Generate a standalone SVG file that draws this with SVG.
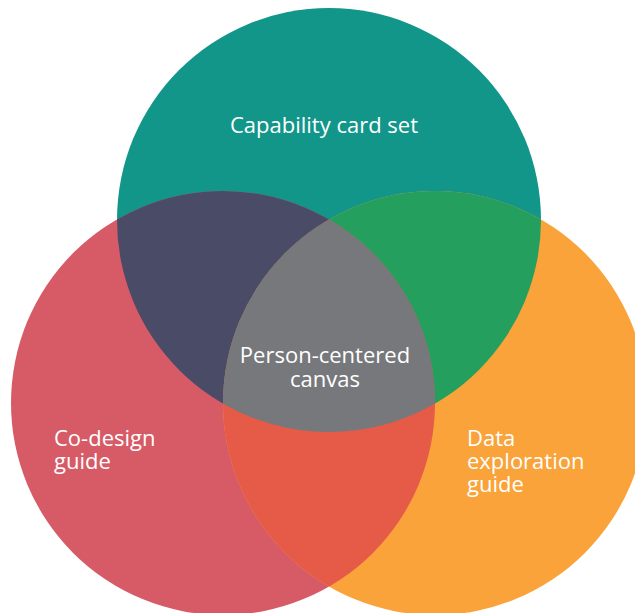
<svg xmlns="http://www.w3.org/2000/svg" width="635" height="613" viewBox="0 0 635 613">
  <style>
    .lbl { font-family: "Open Sans", "Noto Sans", "DejaVu Sans", sans-serif; font-size: 22px; fill: #ffffff; }
    .mid { text-anchor: middle; }
  </style>
  <defs>
    <clipPath id="clipTop"><circle cx="329" cy="220" r="212"/></clipPath>
    <clipPath id="clipLeft"><circle cx="223" cy="403" r="212"/></clipPath>
    <clipPath id="clipRight"><circle cx="435" cy="403" r="212"/></clipPath>
    <clipPath id="clipLeftTop" clip-path="url(#clipTop)"><circle cx="223" cy="403" r="212"/></clipPath>
  </defs>
  <rect width="635" height="613" fill="#ffffff"/>
  <g id="capability-card-set">
    <circle cx="329" cy="220" r="212" fill="#12968A"/>
  </g>
  <g id="co-design-guide">
    <circle cx="223" cy="403" r="212" fill="#D75B66"/>
  </g>
  <g id="data-exploration-guide">
    <circle cx="435" cy="403" r="212" fill="#F9A33A"/>
  </g>
  <g id="overlaps">
    <circle cx="223" cy="403" r="212" fill="#4A4C67" clip-path="url(#clipTop)"/>
    <circle cx="435" cy="403" r="212" fill="#259F5E" clip-path="url(#clipTop)"/>
    <circle cx="435" cy="403" r="212" fill="#E55B47" clip-path="url(#clipLeft)"/>
  </g>
  <g id="person-centered-canvas">
    <circle cx="435" cy="403" r="212" fill="#77787C" clip-path="url(#clipLeftTop)"/>
  </g>
  <g id="connectors"></g>
  <g id="labels">
    <text class="lbl mid" x="324" y="133">Capability card set</text>
    <text class="lbl mid" x="325" y="363">Person-centered</text>
    <text class="lbl mid" x="325" y="387">canvas</text>
    <text class="lbl" x="54" y="446">Co-design</text>
    <text class="lbl" x="54" y="469">guide</text>
    <text class="lbl" x="467" y="446">Data</text>
    <text class="lbl" x="467" y="469">exploration</text>
    <text class="lbl" x="467" y="492">guide</text>
  </g>
</svg>
